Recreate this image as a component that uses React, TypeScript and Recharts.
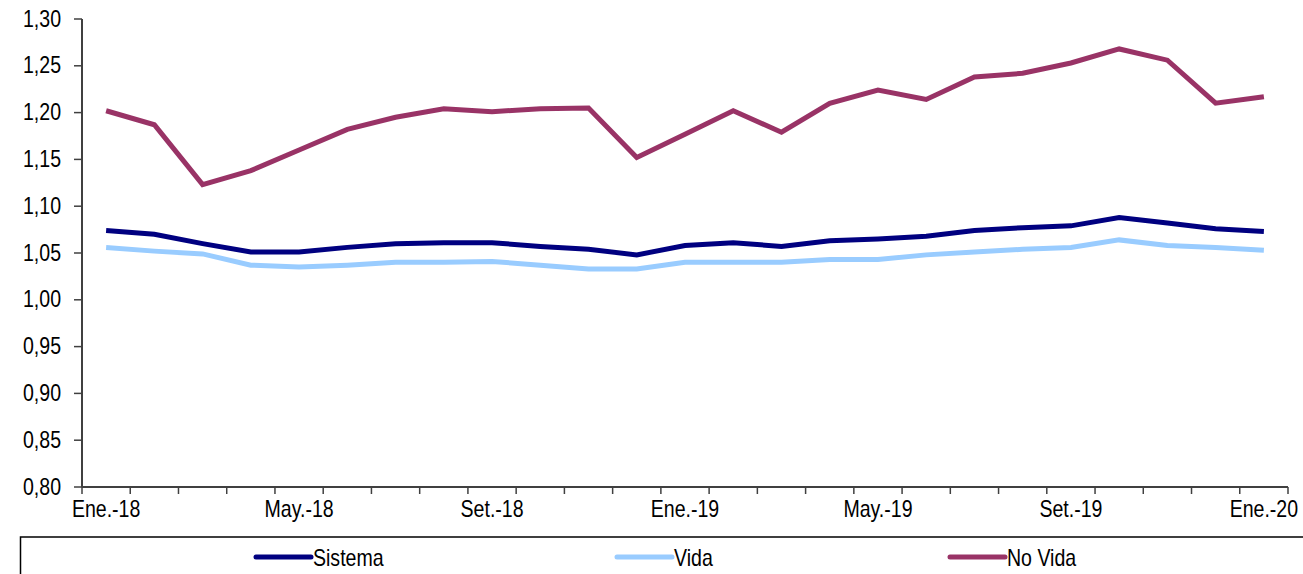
import { Line, LineChart, XAxis, YAxis } from 'recharts';

const months = [
  'Ene.-18', 'Feb.-18', 'Mar.-18', 'Abr.-18', 'May.-18', 'Jun.-18', 'Jul.-18', 'Ago.-18',
  'Set.-18', 'Oct.-18', 'Nov.-18', 'Dic.-18', 'Ene.-19', 'Feb.-19', 'Mar.-19', 'Abr.-19',
  'May.-19', 'Jun.-19', 'Jul.-19', 'Ago.-19', 'Set.-19', 'Oct.-19', 'Nov.-19', 'Dic.-19',
  'Ene.-20',
];

const sistema = [
  1.074, 1.07, 1.06, 1.051, 1.051, 1.056, 1.06, 1.061, 1.061, 1.057, 1.054, 1.048,
  1.058, 1.061, 1.057, 1.063, 1.065, 1.068, 1.074, 1.077, 1.079, 1.088, 1.082, 1.076,
  1.073,
];

const vida = [
  1.056, 1.052, 1.049, 1.037, 1.035, 1.037, 1.04, 1.04, 1.041, 1.037, 1.033, 1.033,
  1.04, 1.04, 1.04, 1.043, 1.043, 1.048, 1.051, 1.054, 1.056, 1.064, 1.058, 1.056,
  1.053,
];

const noVida = [
  1.202, 1.187, 1.123, 1.138, 1.16, 1.182, 1.195, 1.204, 1.201, 1.204, 1.205, 1.152,
  1.177, 1.202, 1.179, 1.21, 1.224, 1.214, 1.238, 1.242, 1.253, 1.268, 1.256, 1.21,
  1.217,
];

const yTicks = [0.8, 0.85, 0.9, 0.95, 1.0, 1.05, 1.1, 1.15, 1.2, 1.25, 1.3];

const series = [
  { key: 'sistema', name: 'Sistema', color: '#000080' },
  { key: 'vida', name: 'Vida', color: '#99ccff' },
  { key: 'noVida', name: 'No Vida', color: '#993366' },
];

// left end of each legend swatch
const legendX = [256, 617, 950];

const chartData = months.map((month, i) => ({
  month,
  sistema: sistema[i],
  vida: vida[i],
  noVida: noVida[i],
}));

// no Arial Narrow available, so squeeze Liberation Sans horizontally
const FONT = "'Liberation Sans', Arial, sans-serif";
const FONT_SIZE = 23;
const SQUEEZE = 0.85;
const WIDTH = 1303;
const HEIGHT = 574;
const PLOT_LEFT = 82;
const PLOT_RIGHT = 1288;
const HALF_BAND = (PLOT_RIGHT - PLOT_LEFT) / months.length / 2;
const AXIS_COLOR = '#404040';
const FRAME_COLOR = '#8c8c8c';

function NarrowText({ x, y, anchor, children }: { x: number; y: number; anchor: 'start' | 'middle' | 'end'; children: any }) {
  return (
    <g transform={`translate(${x},${y}) scale(${SQUEEZE},1)`}>
      <text x={0} y={0} textAnchor={anchor} fill="#000" fontSize={FONT_SIZE} fontFamily={FONT}>
        {children}
      </text>
    </g>
  );
}

function MonthTick(props: any) {
  const { x, y, index, payload } = props;
  const last = index === months.length - 1;
  return (
    <g>
      <line x1={x - HALF_BAND} x2={x - HALF_BAND} y1={y} y2={y + 7} stroke={AXIS_COLOR} strokeWidth={1.5} />
      {last && (
        <line x1={x + HALF_BAND} x2={x + HALF_BAND} y1={y} y2={y + 7} stroke={AXIS_COLOR} strokeWidth={1.5} />
      )}
      {index % 4 === 0 && (
        <NarrowText x={x} y={y + 30} anchor="middle">
          {payload.value}
        </NarrowText>
      )}
    </g>
  );
}

function ValueTick(props: any) {
  const { x, y, payload } = props;
  return (
    <NarrowText x={x} y={y + 7.5} anchor="end">
      {payload.value.toFixed(2).replace('.', ',')}
    </NarrowText>
  );
}

export default function App() {
  return (
    <div style={{ position: 'fixed', left: 0, top: 0, width: WIDTH, height: HEIGHT, overflow: 'hidden', background: '#fff' }}>
      <LineChart
        width={WIDTH}
        height={HEIGHT}
        data={chartData}
        margin={{ top: 19, right: WIDTH - PLOT_RIGHT, bottom: 57, left: 0 }}
      >
        <XAxis
          dataKey="month"
          interval={0}
          height={30}
          padding={{ left: HALF_BAND, right: HALF_BAND }}
          tickLine={false}
          tickSize={0}
          tickMargin={0}
          axisLine={{ stroke: AXIS_COLOR, strokeWidth: 2 }}
          tick={<MonthTick />}
        />
        <XAxis
          xAxisId="top"
          orientation="top"
          dataKey="month"
          height={0}
          tick={false}
          tickLine={false}
          axisLine={{ stroke: FRAME_COLOR, strokeWidth: 1.5 }}
        />
        <YAxis
          domain={[0.8, 1.3]}
          ticks={yTicks}
          interval={0}
          width={PLOT_LEFT}
          tickSize={8}
          tickMargin={13}
          tick={<ValueTick />}
          tickLine={{ stroke: AXIS_COLOR, strokeWidth: 1.5 }}
          axisLine={{ stroke: AXIS_COLOR, strokeWidth: 2 }}
        />
        <YAxis
          yAxisId="right"
          orientation="right"
          width={0}
          tick={false}
          tickLine={false}
          axisLine={{ stroke: FRAME_COLOR, strokeWidth: 1.5 }}
        />
        {series.map(s => (
          <Line
            key={s.key}
            type="linear"
            dataKey={s.key}
            name={s.name}
            stroke={s.color}
            strokeWidth={5}
            dot={false}
            activeDot={false}
            isAnimationActive={false}
          />
        ))}
      </LineChart>

      {/* legend box runs off the bottom and right edges, as in the source */}
      <svg width={WIDTH} height={HEIGHT} style={{ position: 'absolute', left: 0, top: 0, pointerEvents: 'none' }}>
        <rect x={20.5} y={537} width={1320} height={80} fill="none" stroke="#000" strokeWidth={1.5} />
        {series.map((s, i) => (
          <g key={s.key}>
            <line
              x1={legendX[i]}
              x2={legendX[i] + 55}
              y1={557}
              y2={557}
              stroke={s.color}
              strokeWidth={5}
              strokeLinecap="round"
            />
            <NarrowText x={legendX[i] + 57} y={565.5} anchor="start">
              {s.name}
            </NarrowText>
          </g>
        ))}
      </svg>
    </div>
  );
}
